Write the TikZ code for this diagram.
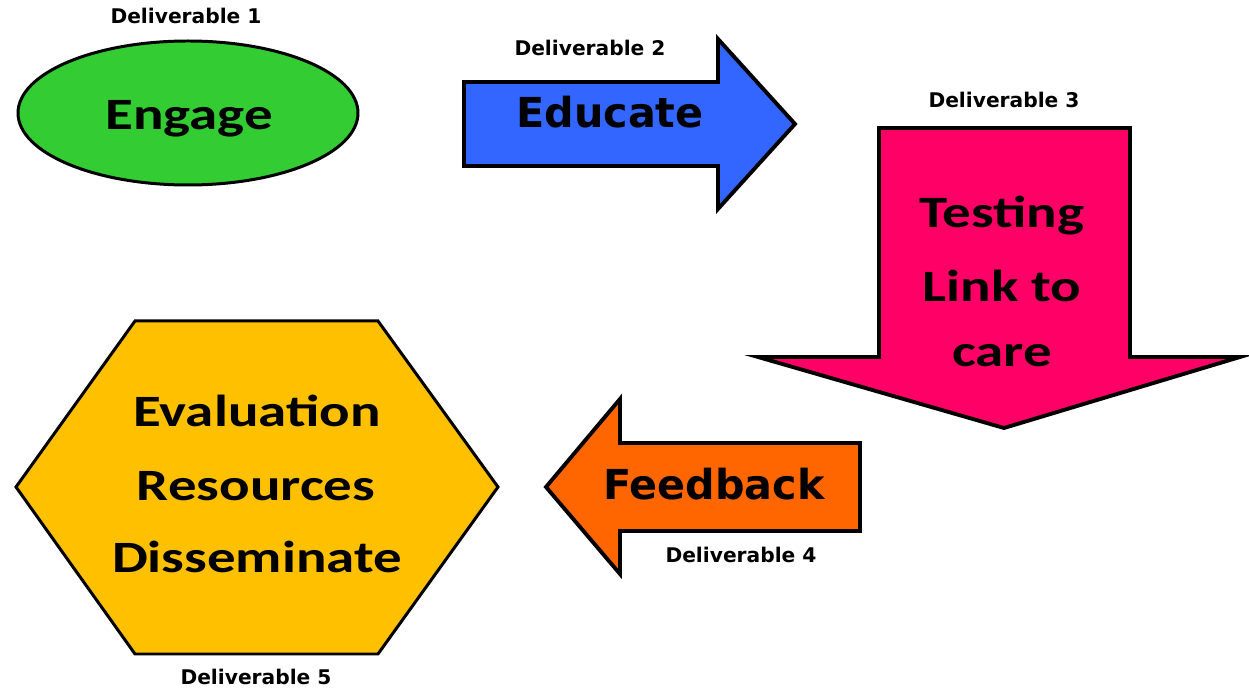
\documentclass[tikz,border=0pt]{standalone}
\usepackage{fontspec}
\setmainfont{DejaVu Sans}
\newfontfamily\widecal[FakeStretch=1.27]{Carlito}

\definecolor{engagegreen}{HTML}{33CC33}
\definecolor{educateblue}{HTML}{3366FF}
\definecolor{testpink}{HTML}{FF0066}
\definecolor{feedorange}{HTML}{FF6600}
\definecolor{evalyellow}{HTML}{FFC000}

\tikzstyle{tag} = [font=\bfseries\fontsize{11.5}{14}\selectfont, anchor=base, inner sep=0pt]
\tikzstyle{bigword} = [font=\widecal\bfseries\fontsize{25.5}{30}\selectfont, anchor=base, inner sep=0pt]
\tikzstyle{arrowword} = [font=\bfseries\fontsize{23.5}{28}\selectfont, anchor=base, inner sep=0pt]
\tikzstyle{outline} = [draw=black, line width=2.2pt, line join=miter]

\begin{document}
\begin{tikzpicture}[x=0.02cm, y=-0.02cm]
      \useasboundingbox (0,0) rectangle (1249,688);
      % shapes
      \draw[outline, line width=1.7pt, fill=engagegreen] (188,113) ellipse [x radius=170, y radius=72];
      \draw[outline, fill=educateblue] (464,82) -- (718,82) -- (718,39) -- (795,124) -- (718,209) -- (718,166) -- (464,166) -- cycle;
      \draw[outline, fill=testpink] (879,128) -- (1130,128) -- (1130,357) -- (1240,357) -- (1004,428) -- (758,357) -- (879,357) -- cycle;
      \draw[outline, fill=feedorange] (860,443) -- (620,443) -- (620,399) -- (546,487) -- (620,574) -- (620,531) -- (860,531) -- cycle;
      \draw[outline, line width=1.7pt, fill=evalyellow] (16,487) -- (135,321) -- (378,321) -- (498,487) -- (378,654) -- (135,654) -- cycle;
      % labels
      \node[tag] (del1) at (186,24) {Deliverable 1};
      \node[tag] (del2) at (590,56) {Deliverable 2};
      \node[tag] (del3) at (1004,108) {Deliverable 3};
      \node[tag] (del4) at (741,563) {Deliverable 4};
      \node[tag] (del5) at (256,685) {Deliverable 5};
      \node[bigword] (engage) at (189,130) {Engage};
      \node[arrowword] (educate) at (610,128) {Educate};
      \node[bigword] (testing) at (1002,228) {Testing};
      \node[bigword] (link) at (1002,302) {Link to};
      \node[bigword] (care) at (1002,367) {care};
      \node[arrowword] (feedback) at (714,500) {Feedback};
      \node[bigword] (evaluation) at (257,427) {Evaluation};
      \node[bigword] (resources) at (256,501) {Resources};
      \node[bigword] (disseminate) at (257,573) {Disseminate};
\end{tikzpicture}
\end{document}
